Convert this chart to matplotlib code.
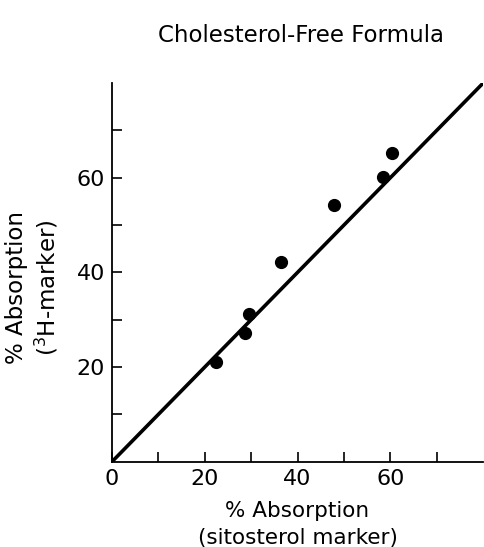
import numpy as np
import matplotlib.pyplot as plt

# data
sito = [22.5, 28.7, 29.6, 36.5, 47.8, 58.5, 60.4]
h3 = [21.0, 27.1, 31.2, 42.2, 54.3, 60.2, 65.3]
line_x = [0, 80]
line_y = [0, 80]

xticks = [0, 10, 20, 30, 40, 50, 60, 70]
xlabels = ['0', '', '20', '', '40', '', '60', '']
yticks = [10, 20, 30, 40, 50, 60, 70]
ylabels = ['', '20', '', '40', '', '60', '']

fig = plt.figure(figsize=(4.85, 5.47), dpi=100)
ax = fig.add_axes([0.231, 0.156, 0.765, 0.692])

ax.plot(line_x, line_y, color='black', lw=2.6, solid_capstyle='butt')
ax.plot(sito, h3, 'o', color='black', ms=8.5)

ax.set_xlim(0, 80)
ax.set_ylim(0, 80)
for s in ['top', 'right']:
    ax.spines[s].set_visible(False)
for s in ['left', 'bottom']:
    ax.spines[s].set_linewidth(1.3)

ax.set_xticks(xticks)
ax.set_xticklabels(xlabels)
ax.set_yticks(yticks)
ax.set_yticklabels(ylabels)
ax.tick_params(axis='both', direction='in', length=7, width=1.2,
               labelsize=16, pad=5)

ax.set_xlabel('% Absorption\n(sitosterol marker)', fontsize=15.5, labelpad=9,
              linespacing=1.45)
ax.set_ylabel('% Absorption\n($^3$H-marker)', fontsize=16.5,
              linespacing=1.2)
ax.yaxis.set_label_coords(-0.14, 0.46)

fig.text(0.62, 0.935, 'Cholesterol-Free Formula', ha='center', va='center',
         fontsize=16.5)

fig.savefig('out.png', dpi=100)
